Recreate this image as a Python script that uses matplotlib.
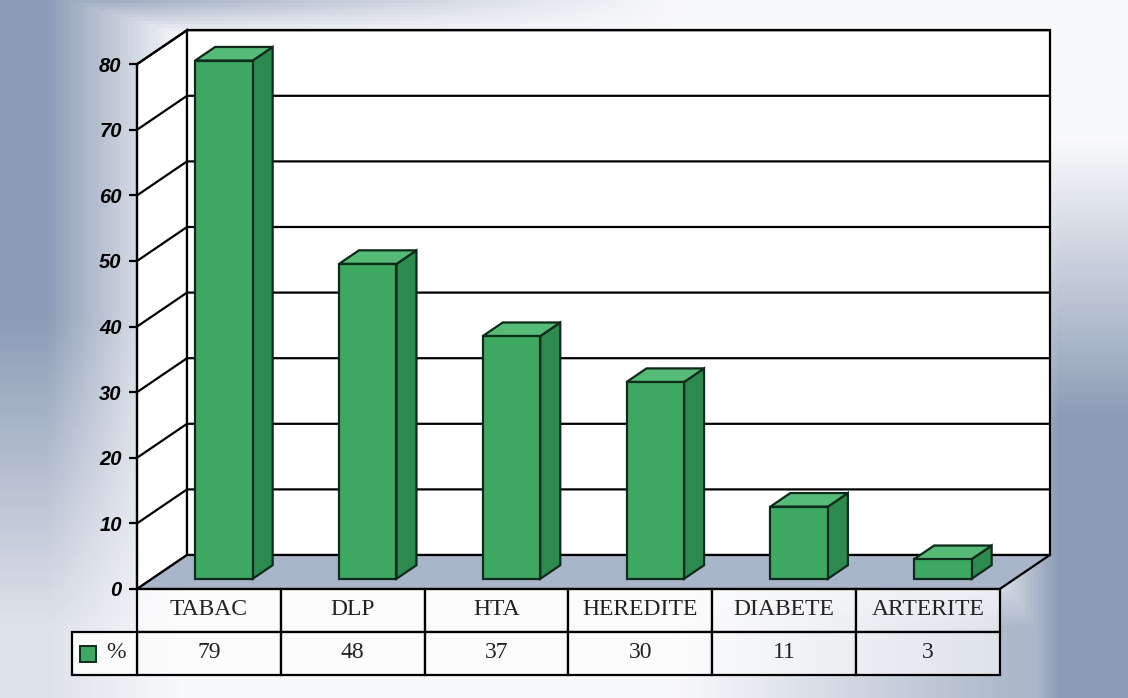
import numpy as np
import matplotlib.pyplot as plt
from matplotlib.patches import Polygon, Rectangle

# data
categories = ['TABAC', 'DLP', 'HTA', 'HEREDITE', 'DIABETE', 'ARTERITE']
values = [79, 48, 37, 30, 11, 3]
series_name = '%'
yticks = [0, 10, 20, 30, 40, 50, 60, 70, 80]

# layout (pixel mapping of the original picture)
W, H = 1128, 698
px_x0, px_per_cat = 137, 143.8
px_y0, px_per_unit = 589, 6.56
DX, DY = 50 / px_per_cat, 34 / px_per_unit   # depth offset of the 3d box
z0, zdepth = 0.3, 0.4                          # bar position in depth
bar_w = 0.4
ymax = 80
n = len(categories)
row_h = 43 / px_per_unit
legend_w = 65 / px_per_cat

green_front = '#3ca862'
green_side = '#2c8a4e'
green_top = '#55bb76'
bar_edge = '#0e2a1a'
floor_col = '#a9b5c8'

fig = plt.figure(figsize=(W / 100, H / 100), dpi=100)
ax = fig.add_axes([0, 0, 1, 1])
xlim = (-px_x0 / px_per_cat, (W - px_x0) / px_per_cat)
ylim = (-(H - px_y0) / px_per_unit, px_y0 / px_per_unit)

# background gradient (grey-blue at the edges, light in the middle)
gx = np.linspace(0, 1, 300)
gy = np.linspace(0, 1, 200)
U, V = np.meshgrid(gx, gy)
dl = np.clip((0.16 - U) / 0.12, 0, 1) * np.clip(1 - (V - 0.45) / 0.6, 0.25, 1)
dt = np.clip(1 - V / 0.05, 0, 1) * np.clip(1 - (U - 0.1) / 0.5, 0, 1) * 0.8
dr = np.clip((U - 0.87) / 0.07, 0, 1) * np.clip((V - 0.2) / 0.4, 0, 1)
db = np.clip((U - 0.6) / 0.3, 0, 1) * np.clip((V - 0.78) / 0.12, 0, 1) * 0.7
d = np.maximum.reduce([dl, dt, dr, db])
dark = np.array([140, 156, 182]) / 255
light = np.array([0.975, 0.977, 0.985])
img = light + (dark - light) * d[..., None]
ax.imshow(img, extent=(xlim[0], xlim[1], ylim[0], ylim[1]), aspect='auto',
          origin='upper', zorder=0)

lw = 1.6
# left side wall
ax.add_patch(Polygon([(0, 0), (0, ymax), (DX, ymax + DY), (DX, DY)],
                     closed=True, facecolor='white', edgecolor='black', lw=lw, zorder=1))
# back wall
ax.add_patch(Rectangle((DX, DY), n, ymax, facecolor='white', edgecolor='black',
                       lw=lw, zorder=1))
# gridlines
for v in yticks[1:]:
    ax.plot([0, DX, n + DX], [v, v + DY, v + DY], color='black', lw=lw, zorder=2)
# floor
ax.add_patch(Polygon([(0, 0), (n, 0), (n + DX, DY), (DX, DY)], closed=True,
                     facecolor=floor_col, edgecolor='black', lw=lw, zorder=2))

# bars
x = np.arange(n) + 0.5 + z0 * DX
bars = ax.bar(x, values, width=bar_w, bottom=z0 * DY, color=green_front,
              edgecolor=bar_edge, lw=lw, zorder=4)
ddx, ddy = zdepth * DX, zdepth * DY
for b in bars:
    x0, x1 = b.get_x(), b.get_x() + b.get_width()
    y0, y1 = b.get_y(), b.get_y() + b.get_height()
    ax.add_patch(Polygon([(x1, y0), (x1 + ddx, y0 + ddy), (x1 + ddx, y1 + ddy), (x1, y1)],
                         closed=True, facecolor=green_side, edgecolor=bar_edge, lw=lw, zorder=3))
    ax.add_patch(Polygon([(x0, y1), (x1, y1), (x1 + ddx, y1 + ddy), (x0 + ddx, y1 + ddy)],
                         closed=True, facecolor=green_top, edgecolor=bar_edge, lw=lw, zorder=3))

# front value axis
for s in ['top', 'right', 'bottom']:
    ax.spines[s].set_visible(False)
ax.spines['left'].set_position(('data', 0))
ax.spines['left'].set_bounds(0, ymax)
ax.spines['left'].set_linewidth(lw)
ax.spines['left'].set_zorder(5)
ax.set_yticks(yticks)
ax.tick_params(axis='y', direction='out', length=6, width=lw, pad=5)
for lab in ax.get_yticklabels():
    lab.set_fontfamily('Liberation Sans')
    lab.set_fontweight('bold')
    lab.set_fontstyle('italic')
    lab.set_fontsize(14.5)
ax.set_xticks([])

# data table
tfont = dict(family='Liberation Serif', fontsize=17, ha='center', va='center', zorder=7)
for i, (c, v) in enumerate(zip(categories, values)):
    ax.add_patch(Rectangle((i, -row_h), 1, row_h, facecolor=(1, 1, 1, 0.6),
                           edgecolor='black', lw=lw, zorder=6))
    ax.add_patch(Rectangle((i, -2 * row_h), 1, row_h, facecolor=(1, 1, 1, 0.6),
                           edgecolor='black', lw=lw, zorder=6))
    ax.text(i + 0.5, -row_h / 2 + 0.2, c, color='#222222', **tfont)
    ax.text(i + 0.5, -1.5 * row_h + 0.2, str(v), color='#222222', **tfont)
ax.add_patch(Rectangle((-legend_w, -2 * row_h), legend_w, row_h, facecolor=(1, 1, 1, 0.85),
                       edgecolor='black', lw=lw, zorder=6))
ax.plot([-legend_w * 0.75], [-1.5 * row_h], marker='s', markersize=11,
        markerfacecolor=green_front, markeredgecolor=bar_edge, markeredgewidth=1.4, zorder=7)
ax.text(-legend_w * 0.33, -1.5 * row_h + 0.2, series_name, color='#222222', **tfont)

ax.set_xlim(*xlim)
ax.set_ylim(*ylim)
plt.savefig('out.png', dpi=100)
